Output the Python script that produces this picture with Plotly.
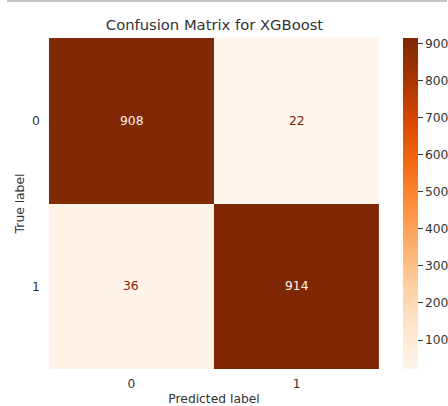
import plotly.graph_objects as go

# Confusion matrix counts (rows = true label, columns = predicted label)
class_labels = ["0", "1"]
counts = [
    [908, 22],
    [36, 914],
]
colorbar_ticks = [100, 200, 300, 400, 500, 600, 700, 800, 900]

W, H = 448, 406
FONT = "DejaVu Sans"
TEXT = "#333333"
LABEL_SIZE = 12.3

# plot area in pixels
left, right, top, bottom = 49, 380, 38, 369

flat = [v for row in counts for v in row]
zmin, zmax = min(flat), max(flat)
mid = (zmin + zmax) / 2

fig = go.Figure(
    go.Heatmap(
        z=counts,
        x=class_labels,
        y=class_labels,
        colorscale="Oranges",
        zmin=zmin,
        zmax=zmax,
        showscale=True,
        hoverinfo="skip",
        colorbar=dict(
            x=403 / W,
            xanchor="left",
            xpad=0,
            y=1 - top / H,
            yanchor="top",
            ypad=0,
            len=(bottom - top) / H,
            lenmode="fraction",
            thickness=15,
            outlinewidth=0,
            tickvals=colorbar_ticks,
            ticks="outside",
            ticklen=5,
            tickwidth=1,
            tickcolor=TEXT,
            tickfont=dict(family=FONT, size=LABEL_SIZE, color=TEXT),
        ),
    )
)

# cell value labels, coloured for contrast against the cell
for i, row in enumerate(counts):
    for j, v in enumerate(row):
        fig.add_annotation(
            x=class_labels[j],
            y=class_labels[i],
            text=str(v),
            showarrow=False,
            font=dict(family=FONT, size=LABEL_SIZE,
                      color="#fff5eb" if v > mid else "#7f2704"),
        )

fig.update_layout(
    width=W,
    height=H,
    margin=dict(l=0, r=0, t=0, b=0),
    paper_bgcolor="white",
    plot_bgcolor="white",
    font=dict(family=FONT, size=LABEL_SIZE, color=TEXT),
    title=dict(
        text="Confusion Matrix for XGBoost",
        x=(left + right) / 2 / W,
        xanchor="center",
        y=1 - 25 / H,
        yanchor="middle",
        font=dict(family=FONT, size=14.75, color=TEXT),
    ),
    xaxis=dict(
        domain=[left / W, right / W],
        title=dict(text="Predicted label", standoff=6,
                   font=dict(family=FONT, size=LABEL_SIZE, color=TEXT)),
        tickfont=dict(family=FONT, size=LABEL_SIZE, color=TEXT),
        showgrid=False,
        zeroline=False,
        ticks="",
        ticklabelstandoff=6,
        automargin=False,
    ),
    yaxis=dict(
        domain=[1 - bottom / H, 1 - top / H],
        autorange="reversed",
        title=dict(text="True label", standoff=4,
                   font=dict(family=FONT, size=LABEL_SIZE, color=TEXT)),
        tickfont=dict(family=FONT, size=LABEL_SIZE, color=TEXT),
        showgrid=False,
        zeroline=False,
        ticks="",
        ticklabelstandoff=8,
        automargin=False,
    ),
    shapes=[
        dict(type="line", xref="paper", yref="paper",
             x0=7 / W, x1=1, y0=1 - 1 / H, y1=1 - 1 / H,
             line=dict(color="#c4c4c4", width=2)),
    ],
)

fig.write_html("out.html")
